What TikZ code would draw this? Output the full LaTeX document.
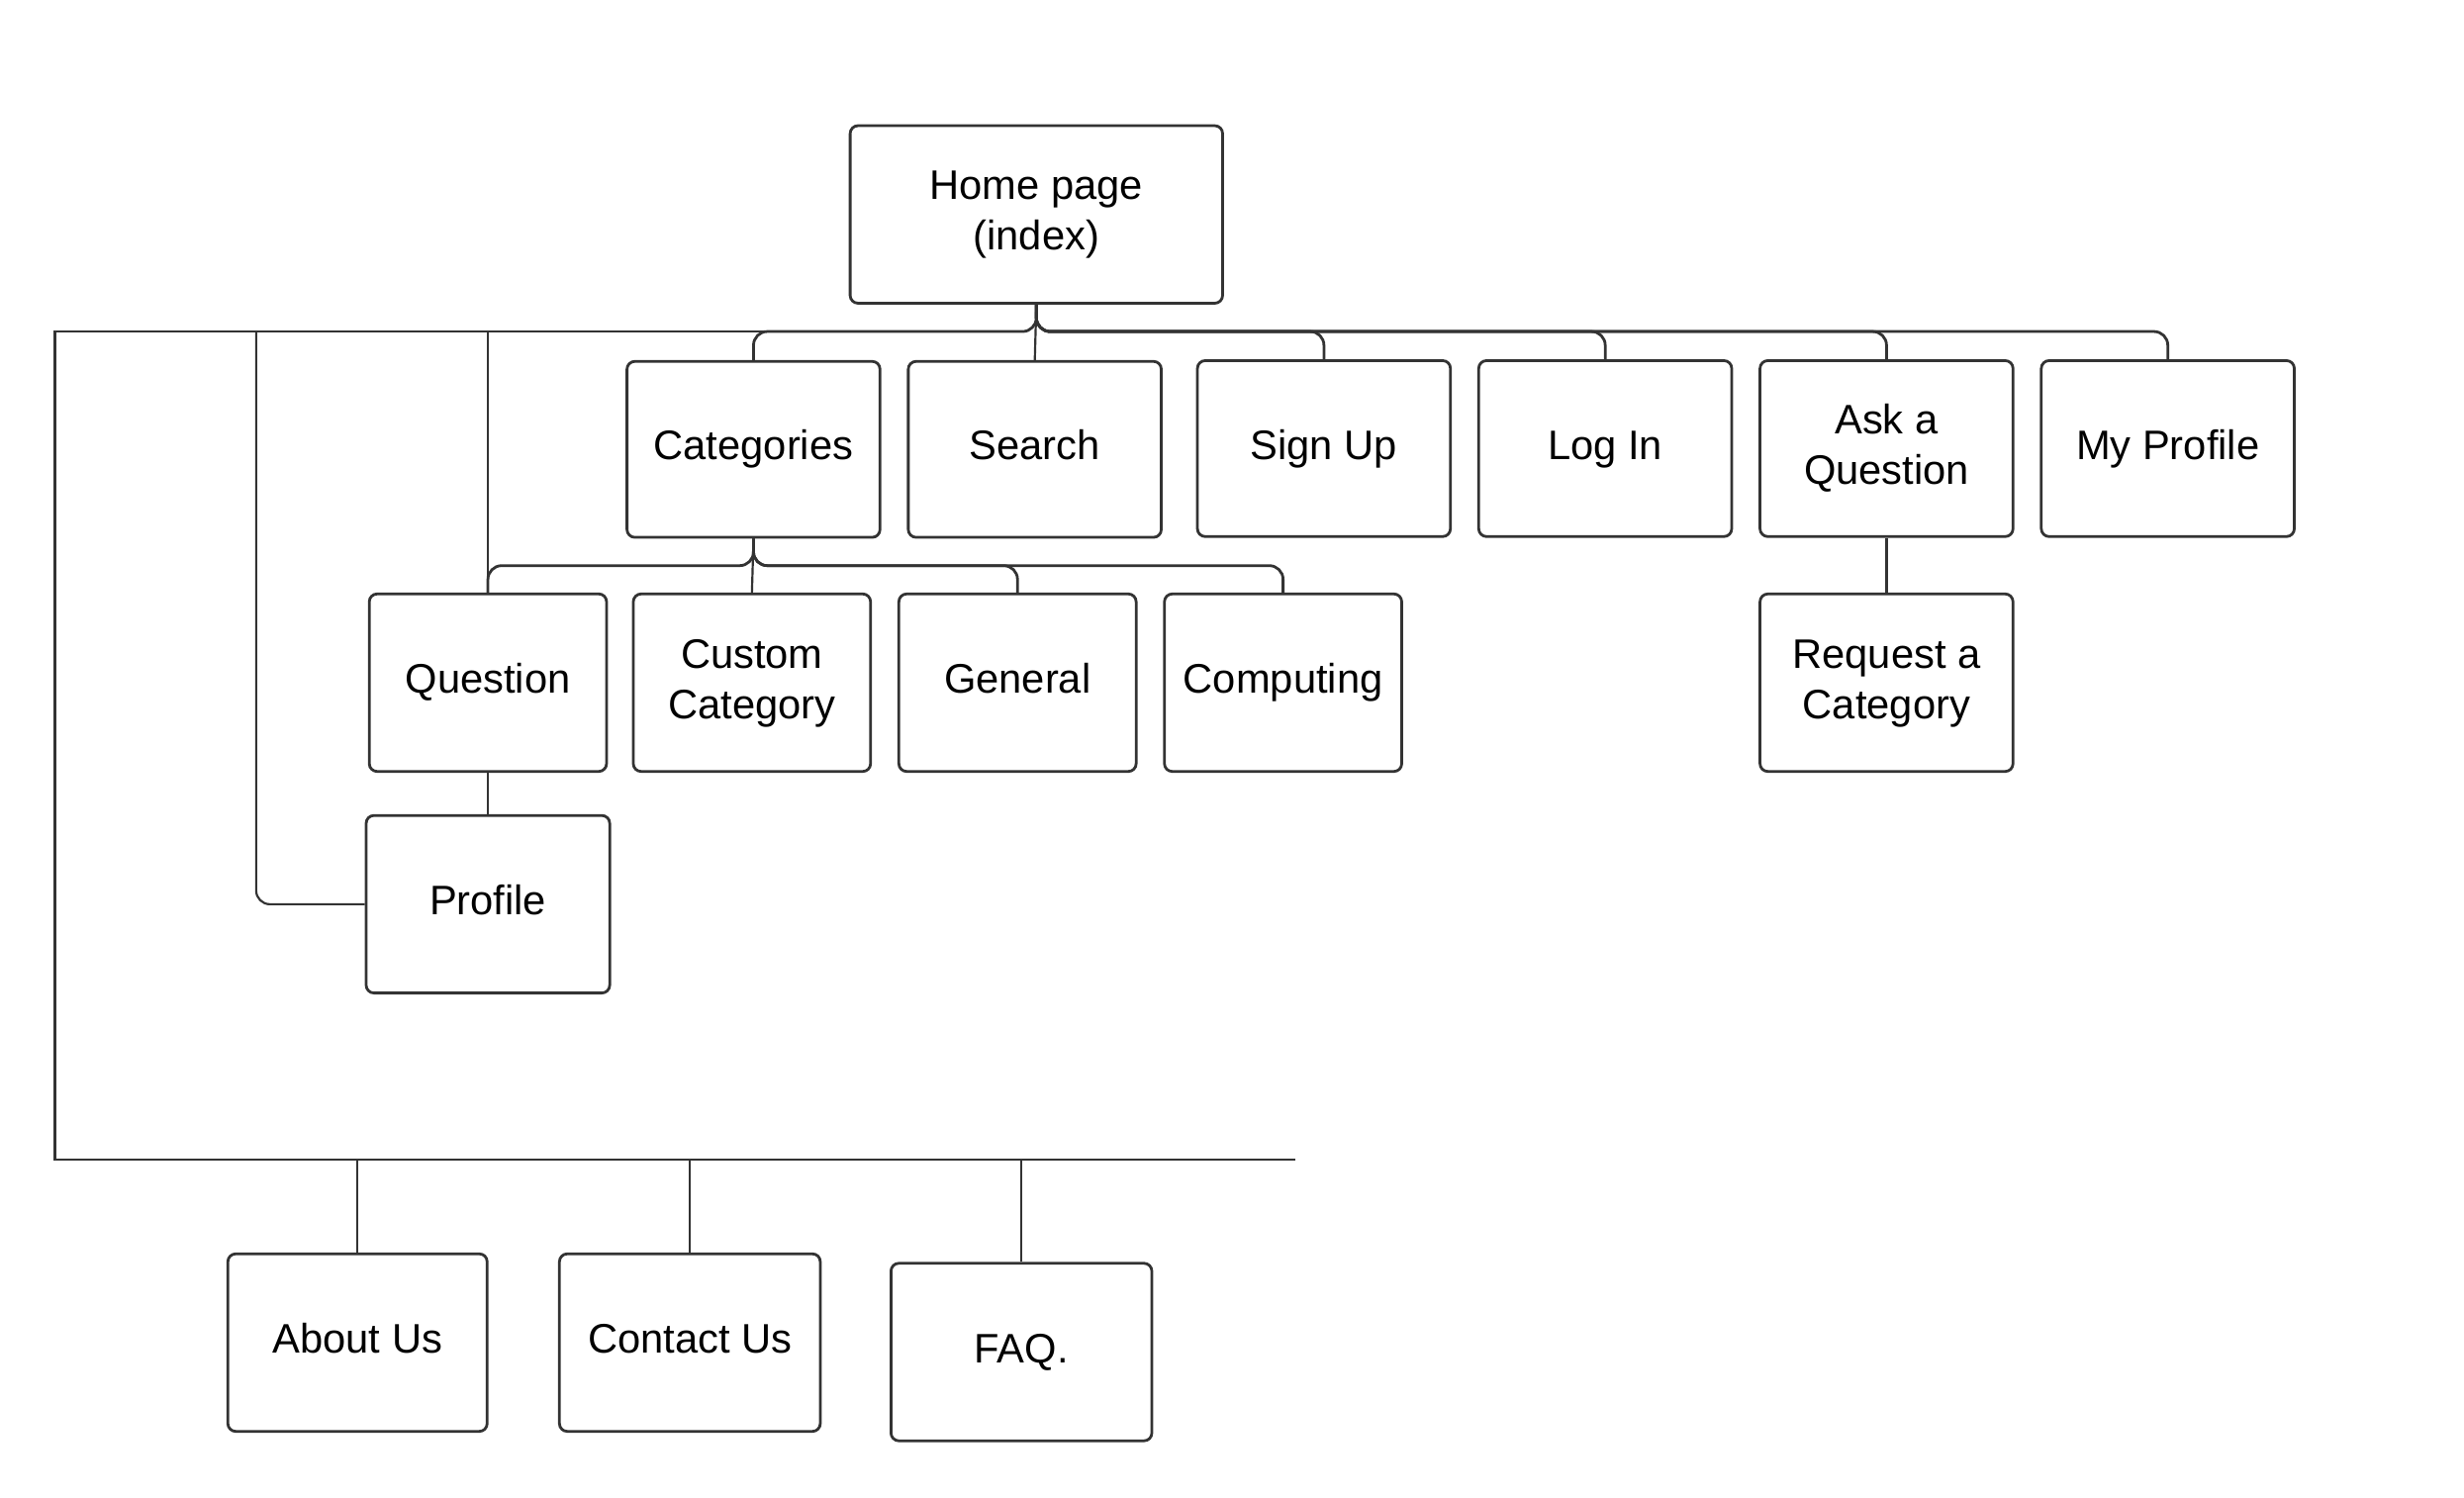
\documentclass[tikz,border=0pt]{standalone}
\usepackage{fontspec}
\setmainfont{Liberation Sans}
\newcommand{\lineh}{\vphantom{Qg(}}
\begin{document}
\begin{tikzpicture}[x=0.8pt,y=-0.8pt,
  every node/.style={font=\fontsize{21}{25.6}\selectfont},
  page/.style={draw=black!80, line width=1.4pt, rounded corners=4pt, align=center,
    inner sep=2pt, fill=white},
  topbox/.style={page, minimum width=161*0.8pt, minimum height=112*0.8pt},
  midbox/.style={page, minimum width=151*0.8pt, minimum height=113*0.8pt},
  lowbox/.style={page, minimum width=166*0.8pt, minimum height=113*0.8pt},
  link/.style={draw=black!80, line width=1.1pt},
  bus/.style={draw=black!80, line width=1.4pt},
  curvebus/.style={bus, rounded corners=7pt},
]
\useasboundingbox (0,0) rectangle (1568,953);
\fill[white] (0,0) rectangle (1568,953);

% pages
\node[page, minimum width=237*0.8pt, minimum height=113*0.8pt] (home) at (659.5,136.5) {Home page\\(index)};
\node[topbox] (cat)    at (479.5,286) {\lineh Categories};
\node[topbox] (search) at (658.5,286) {\lineh Search};
\node[topbox] (signup) at (842.5,285.5) {\lineh Sign Up};
\node[topbox] (login)  at (1021.5,285.5) {\lineh Log In};
\node[topbox] (ask)    at (1200.5,285.5) {\lineh Ask a\\\lineh Question};
\node[topbox] (myprof) at (1379.5,285.5) {\lineh My Profile};

\node[midbox] (question)  at (310.5,434.5) {\lineh Question};
\node[midbox] (custom)    at (478.5,434.5) {\lineh Custom\\\lineh Category};
\node[midbox] (general)   at (647.5,434.5) {\lineh General};
\node[midbox] (computing) at (816.5,434.5) {\lineh Computing};
\node[topbox, minimum height=113*0.8pt] (request) at (1200.5,434.5) {\lineh Request a\\\lineh Category};

\node[page, minimum width=155*0.8pt, minimum height=113*0.8pt] (profile) at (310.5,575.5) {\lineh Profile};

\node[lowbox, minimum width=165*0.8pt] (about) at (227.5,854.5) {\lineh About Us};
\node[lowbox] (contact) at (439,854.5) {\lineh Contact Us};
\node[lowbox] (faq)     at (650,860.5) {\lineh FAQ.};

% bus levels
\coordinate (topbus) at (0,211);
\coordinate (catbus) at (0,360);
\coordinate (lowbus) at (0,738);
\coordinate (cornerA) at (35,211);
\coordinate (cornerB) at (35,738);
\coordinate (busend) at (824,738);
\coordinate (leftend) at (528,211);
\coordinate (profbus) at (163,211);
\coordinate (quesbus) at (310.5,211);

% home page branches
\draw[curvebus] (home.south) -- (home.south |- topbus) -- (cat.north |- topbus) -- (cat.north);
\draw[link] (home.south) -- (search.north);
\draw[curvebus] (home.south) -- (home.south |- topbus) -- (signup.north |- topbus) -- (signup.north);
\draw[curvebus] (home.south) -- (home.south |- topbus) -- (login.north |- topbus) -- (login.north);
\draw[curvebus] (home.south) -- (home.south |- topbus) -- (ask.north |- topbus) -- (ask.north);
\draw[curvebus] (home.south) -- (home.south |- topbus) -- (myprof.north |- topbus) -- (myprof.north);

% long left bus down to the footer pages
\draw[bus] (leftend) -- (cornerA) -- (cornerB) -- (busend);
\draw[link, rounded corners=7pt] (profbus) -- (profbus |- profile.west) -- (profile.west);
\draw[link] (quesbus) -- (question.north);

% category branches
\draw[curvebus] (cat.south) -- (cat.south |- catbus) -- (question.north |- catbus) -- (question.north);
\draw[link] (cat.south) -- (custom.north);
\draw[curvebus] (cat.south) -- (cat.south |- catbus) -- (general.north |- catbus) -- (general.north);
\draw[curvebus] (cat.south) -- (cat.south |- catbus) -- (computing.north |- catbus) -- (computing.north);

% single links
\draw[link] (ask.south) -- (request.north);
\draw[link] (question.south) -- (profile.north);

% footer pages
\draw[link] (about.north |- lowbus) -- (about.north);
\draw[link] (contact.north |- lowbus) -- (contact.north);
\draw[link] (faq.north |- lowbus) -- (faq.north);
\end{tikzpicture}
\end{document}
